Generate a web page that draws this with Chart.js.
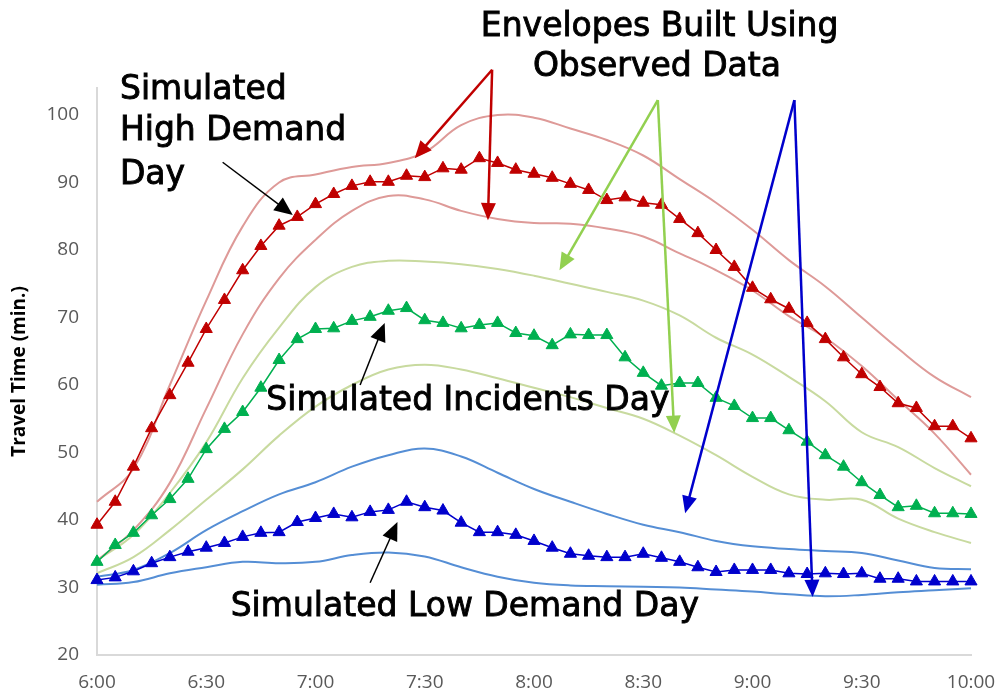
<!DOCTYPE html>
<html>
<head>
<meta charset="utf-8">
<script src="https://cdn.jsdelivr.net/npm/chart.js@4"></script>
<style>
  html, body { margin: 0; padding: 0; background: #fff; }
</style>
</head>
<body>
<canvas id="travelTime" width="1002" height="695"></canvas>
<script>
// time of day, every 5 minutes (simulated days)
const times = ['6:00','6:05','6:10','6:15','6:20','6:25','6:30','6:35','6:40','6:45','6:50','6:55',
  '7:00','7:05','7:10','7:15','7:20','7:25','7:30','7:35','7:40','7:45','7:50','7:55',
  '8:00','8:05','8:10','8:15','8:20','8:25','8:30','8:35','8:40','8:45','8:50','8:55',
  '9:00','9:05','9:10','9:15','9:20','9:25','9:30','9:35','9:40','9:45','9:50','9:55','10:00'];

const highDemand = [39.3,42.7,47.9,53.6,58.5,63.3,68.3,72.6,77.0,80.6,
  83.6,84.9,86.8,88.3,89.5,90.1,90.1,91.0,90.8,92.1,
  91.9,93.6,92.9,91.9,91.3,90.7,89.8,88.9,87.4,87.8,
  87.0,86.7,84.6,82.5,80.0,77.5,74.4,72.7,71.3,69.2,
  66.8,64.1,61.6,59.7,57.3,56.6,53.9,53.9,52.1];
const incidents = [33.8,36.3,38.1,40.7,43.1,46.1,50.5,53.5,56.0,59.6,
  63.7,66.8,68.3,68.4,69.5,70.1,71.0,71.4,69.6,69.2,
  68.4,68.9,69.2,67.7,67.3,65.9,67.5,67.4,67.4,64.1,
  61.8,59.9,60.3,60.3,58.1,56.9,55.1,55.1,53.3,51.6,
  49.6,47.9,45.6,43.7,41.9,42.1,41.0,41.0,40.9];
const lowDemand = [31.1,31.5,32.4,33.6,34.5,35.3,35.9,36.6,37.5,38.1,
  38.2,39.7,40.3,40.9,40.4,41.2,41.5,42.7,41.9,41.4,
  39.6,38.2,38.2,37.8,36.9,35.9,35.0,34.7,34.5,34.5,
  35.0,34.4,33.8,33.0,32.3,32.6,32.6,32.6,32.1,32.0,
  32.1,32.0,32.1,31.3,31.3,30.9,30.9,30.9,30.9];

// observed envelopes, every 10 minutes
const envTimes = ['6:00','6:10','6:20','6:30','6:40','6:50','7:00','7:10','7:20','7:30','7:40','7:50',
  '8:00','8:10','8:20','8:30','8:40','8:50','9:00','9:10','9:20','9:30','9:40','9:50','10:00'];
const highUpper = [42.7,47.6,60.0,72.5,83.5,90.0,91.2,92.3,92.9,94.5,98.5,100.0,99.6,98.0,96.3,94.0,90.5,87.0,83.0,78.5,74.6,70.0,65.4,61.2,58.2];
const highLower = [34.0,38.5,45.5,56.5,67.5,75.8,81.5,85.8,88.0,87.5,85.8,84.6,84.0,83.9,83.2,82.0,79.5,77.0,74.0,70.2,67.0,62.8,57.8,52.8,46.7];
const incUpper = [34.0,37.8,44.0,51.5,61.0,68.5,74.5,77.5,78.4,78.3,77.9,77.2,76.2,75.0,73.8,72.5,70.3,67.0,64.5,61.2,57.6,53.0,50.8,47.7,45.0];
const incLower = [32.1,34.5,38.5,43.0,47.5,52.5,56.8,60.0,62.3,63.0,62.3,61.0,59.6,58.2,56.6,55.0,52.5,49.6,46.4,43.8,43.0,43.0,40.2,38.2,36.6];
const lowUpper = [31.6,32.6,35.1,38.5,41.3,43.8,45.6,47.9,49.6,50.6,49.4,47.0,44.6,42.7,40.9,39.3,38.2,36.9,36.1,35.7,35.4,35.1,34.0,32.9,32.7];
const lowLower = [30.4,30.8,32.1,33.0,33.8,33.6,33.8,34.8,35.2,34.6,33.0,31.6,30.7,30.3,30.2,30.1,30.0,29.7,29.4,29.0,28.7,28.9,29.3,29.6,29.9];

const yTicks = [20, 30, 40, 50, 60, 70, 80, 90, 100];

function simulated(data, color) {
  return {
    data: data,
    borderColor: color,
    backgroundColor: color,
    borderWidth: 1.5,
    pointStyle: 'triangle',
    pointRadius: 7,
    pointBorderWidth: 1,
    tension: 0
  };
}
function envelope(values, color) {
  return {
    data: values.map((v, i) => ({ x: envTimes[i], y: v })),
    borderColor: color,
    borderWidth: 2,
    pointRadius: 0,
    tension: 0.4
  };
}

function drawArrow(ctx, a, b, color, width, head) {
  const ang = Math.atan2(b.y - a.y, b.x - a.x);
  const len = head * 1.15;
  ctx.strokeStyle = color;
  ctx.fillStyle = color;
  ctx.lineWidth = width;
  ctx.beginPath();
  ctx.moveTo(a.x, a.y);
  ctx.lineTo(b.x - Math.cos(ang) * len * 0.8, b.y - Math.sin(ang) * len * 0.8);
  ctx.stroke();
  ctx.beginPath();
  ctx.moveTo(b.x, b.y);
  ctx.lineTo(b.x - Math.cos(ang) * len + Math.sin(ang) * head / 2, b.y - Math.sin(ang) * len - Math.cos(ang) * head / 2);
  ctx.lineTo(b.x - Math.cos(ang) * len - Math.sin(ang) * head / 2, b.y - Math.sin(ang) * len + Math.cos(ang) * head / 2);
  ctx.closePath();
  ctx.fill();
}

// call-outs placed in (time index, minutes) coordinates
const notes = {
  id: 'notes',
  afterDatasetsDraw(chart) {
    const ctx = chart.ctx;
    const xs = chart.scales.x, ys = chart.scales.y;
    const at = p => ({ x: xs.getPixelForValue(p[0]), y: ys.getPixelForValue(p[1]) });
    const arrows = [
      { from: [6.9, 93.0], to: [[10.75, 85.2]], color: '#000', width: 1.5, head: 16 },
      { from: [14.45, 60.0], to: [[15.8, 69.2]], color: '#000', width: 1.5, head: 16 },
      { from: [15.0, 30.7], to: [[16.5, 39.7]], color: '#000', width: 1.5, head: 16 },
      { from: [21.7, 106.7], to: [[17.45, 93.6], [21.47, 84.4]], color: '#c00000', width: 2.5, head: 15 },
      { from: [30.8, 102.2], to: [[25.4, 77.0], [31.7, 52.9]], color: '#92d050', width: 2.5, head: 15 },
      { from: [38.3, 102.2], to: [[32.3, 41.0], [39.3, 28.6]], color: '#0000cc', width: 2.5, head: 15 }
    ];
    const texts = [
      { text: 'Envelopes Built Using', p: [30.9, 113.0], align: 'center' },
      { text: 'Observed Data', p: [30.75, 107.0], align: 'center' },
      { text: 'Simulated', p: [1.26, 103.7], align: 'left' },
      { text: 'High Demand', p: [1.26, 97.5], align: 'left' },
      { text: 'Day', p: [1.26, 91.1], align: 'left' },
      { text: 'Simulated Incidents Day', p: [20.37, 57.5], align: 'center' },
      { text: 'Simulated Low Demand Day', p: [20.2, 27.1], align: 'center' }
    ];
    ctx.save();
    arrows.forEach(a => a.to.forEach(t => drawArrow(ctx, at(a.from), at(t), a.color, a.width, a.head)));
    ctx.fillStyle = '#000';
    ctx.strokeStyle = '#000';
    ctx.lineWidth = 0.9;
    ctx.font = '33px "Comic Sans MS", "DejaVu Sans", sans-serif';
    ctx.textBaseline = 'middle';
    texts.forEach(t => {
      const pos = at(t.p);
      ctx.textAlign = t.align;
      ctx.fillText(t.text, pos.x, pos.y);
      ctx.strokeText(t.text, pos.x, pos.y);
    });
    ctx.restore();
  }
};

new Chart(document.getElementById('travelTime'), {
  type: 'line',
  data: {
    labels: times,
    datasets: [
      simulated(highDemand, '#c00000'),
      simulated(incidents, '#00b050'),
      simulated(lowDemand, '#0000cc'),
      envelope(highUpper, '#de9a98'),
      envelope(highLower, '#de9a98'),
      envelope(incUpper, '#c8da9f'),
      envelope(incLower, '#c8da9f'),
      envelope(lowUpper, '#558ed5'),
      envelope(lowLower, '#558ed5')
    ]
  },
  options: {
    responsive: false,
    animation: false,
    layout: { padding: { left: 0, right: 31, top: 88, bottom: 0 } },
    plugins: { legend: { display: false }, tooltip: { enabled: false } },
    scales: {
      x: {
        offset: false,
        grid: { display: false, drawTicks: false },
        border: { display: true, color: '#d9d9d9', width: 2 },
        ticks: {
          autoSkip: false,
          maxRotation: 0,
          padding: 16,
          color: '#595959',
          font: { family: '"Open Sans"', size: 19 },
          callback: (v, i) => (i % 6 === 0 ? times[i] : '')
        },
        afterFit: axis => {
          axis.height = 40;
          axis.paddingLeft = 0;
          axis.paddingRight = 0;
        }
      },
      y: {
        min: 20,
        max: 104,
        grid: { display: false, drawTicks: false },
        border: { display: true, color: '#d9d9d9', width: 2 },
        afterBuildTicks: axis => { axis.ticks = yTicks.map(v => ({ value: v })); },
        ticks: {
          padding: 18,
          color: '#595959',
          font: { family: '"Open Sans"', size: 19 }
        },
        title: {
          display: true,
          text: 'Travel Time (min.)',
          color: '#000',
          font: { family: '"Open Sans"', size: 19, weight: 'bold' },
          padding: { top: 8, bottom: 0 }
        },
        afterFit: axis => { axis.width = 97; }
      }
    }
  },
  plugins: [notes]
});
</script>
</body>
</html>
